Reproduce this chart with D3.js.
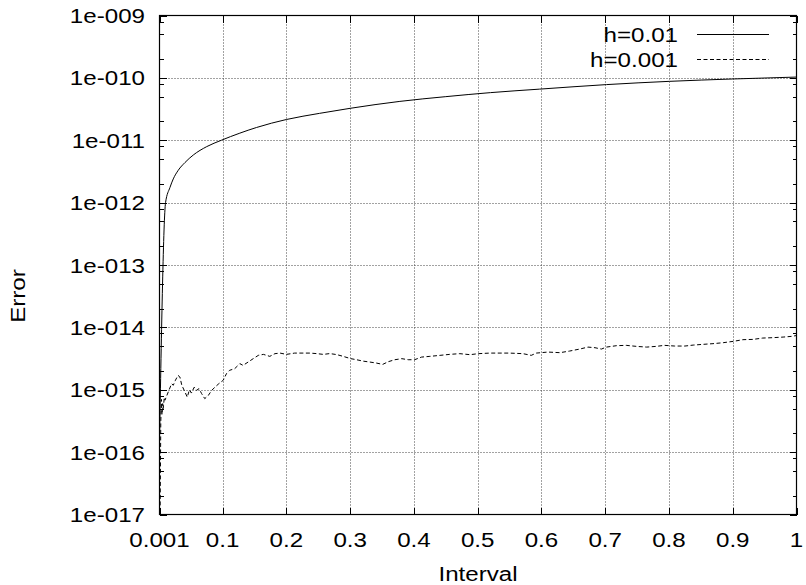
<!DOCTYPE html>
<html>
<head>
<meta charset="utf-8">
<script src="https://cdn.jsdelivr.net/npm/d3@7"></script>
<style>
  body { margin: 0; background: #fff; }
  text { font-family: "Liberation Sans", Arial, sans-serif; font-size: 21px; fill: #000; }
</style>
</head>
<body>
<svg id="chart" width="806" height="585"></svg>
<script>
// ---- data ----
const xTicks = [0.001, 0.1, 0.2, 0.3, 0.4, 0.5, 0.6, 0.7, 0.8, 0.9, 1]
const xTickLabels = ["0.001", "0.1", "0.2", "0.3", "0.4", "0.5", "0.6", "0.7", "0.8", "0.9", "1"]
const yTicks = [1e-17, 1e-16, 1e-15, 1e-14, 1e-13, 1e-12, 1e-11, 1e-10, 1e-9]
const yTickLabels = ["1e-017", "1e-016", "1e-015", "1e-014", "1e-013", "1e-012", "1e-011", "1e-010", "1e-009"]
const yMinorMult = [2, 5, 8]

// h=0.01
const coarseX = [0.001, 0.0105, 0.0174, 0.0226, 0.0304, 0.041, 0.054, 0.075, 0.098, 0.127, 0.153, 0.2,
                 0.252, 0.3, 0.378, 0.45, 0.52, 0.597, 0.702, 0.801, 0.9, 1.0]
const coarseErr = [1.5e-16, 1.0e-12, 1.75e-12, 2.4e-12, 3.3e-12, 4.4e-12, 5.8e-12, 7.9e-12, 1.0e-11, 1.3e-11,
                   1.6e-11, 2.15e-11, 2.7e-11, 3.25e-11, 4.2e-11, 5.0e-11, 5.8e-11, 6.6e-11, 7.8e-11,
                   8.8e-11, 9.6e-11, 1.03e-10]

// h=0.001
const fineX = [0.002, 0.003, 0.004, 0.005, 0.006, 0.0069, 0.0085, 0.0096, 0.0147, 0.020, 0.0226, 0.026, 0.030,
  0.033, 0.036, 0.041, 0.0445, 0.048, 0.051, 0.0555, 0.059, 0.063, 0.067, 0.072, 0.0775, 0.083, 0.088, 0.094,
  0.101, 0.106, 0.111, 0.119, 0.127, 0.132, 0.140, 0.148, 0.156, 0.164, 0.174, 0.182, 0.190, 0.200, 0.213,
  0.226, 0.237, 0.247, 0.258, 0.268, 0.279, 0.289, 0.301, 0.31, 0.32, 0.331, 0.341, 0.351, 0.36, 0.37, 0.381,
  0.391, 0.401, 0.412, 0.425, 0.441, 0.456, 0.472, 0.488, 0.501, 0.519, 0.535, 0.55, 0.571, 0.584, 0.592,
  0.61, 0.629, 0.644, 0.66, 0.673, 0.684, 0.694, 0.702, 0.718, 0.733, 0.749, 0.765, 0.78, 0.793, 0.809,
  0.825, 0.838, 0.853, 0.869, 0.885, 0.901, 0.916, 0.932, 0.947, 0.963, 0.979, 0.992, 1.0]
const fineErr = [1.1e-17, 3.0e-16, 7.0e-16, 4.0e-16, 6.0e-16, 5.0e-16, 7.5e-16, 6.8e-16, 9.2e-16, 1.25e-15,
  1.18e-15, 1.42e-15, 1.70e-15, 1.60e-15, 1.18e-15, 9.2e-16, 7.6e-16, 1.0e-15, 8.85e-16, 1.10e-15, 9.8e-16,
  1.04e-15, 8.7e-16, 7.2e-16, 8.1e-16, 9.8e-16, 1.10e-15, 1.25e-15, 1.42e-15, 1.81e-15, 2.05e-15, 2.18e-15,
  2.62e-15, 2.46e-15, 2.78e-15, 3.15e-15, 3.56e-15, 3.69e-15, 3.43e-15, 3.79e-15, 3.87e-15, 3.69e-15, 3.87e-15,
  3.87e-15, 3.87e-15, 3.8e-15, 3.69e-15, 3.8e-15, 3.66e-15, 3.43e-15, 3.15e-15, 3.03e-15, 2.88e-15, 2.78e-15,
  2.68e-15, 2.55e-15, 2.82e-15, 3.03e-15, 3.15e-15, 3.03e-15, 3.03e-15, 3.34e-15, 3.43e-15, 3.56e-15, 3.69e-15,
  3.79e-15, 3.65e-15, 3.79e-15, 3.87e-15, 3.87e-15, 3.87e-15, 3.79e-15, 3.56e-15, 3.87e-15, 4.02e-15, 3.93e-15,
  4.17e-15, 4.49e-15, 4.83e-15, 4.72e-15, 4.49e-15, 4.83e-15, 5.09e-15, 5.15e-15, 4.96e-15, 4.83e-15, 4.96e-15,
  5.15e-15, 5.02e-15, 5.02e-15, 5.2e-15, 5.34e-15, 5.48e-15, 5.68e-15, 5.97e-15, 6.35e-15, 6.42e-15, 6.74e-15,
  6.84e-15, 6.99e-15, 7.17e-15, 7.4e-15]

const seriesNames = ["h=0.01", "h=0.001"]

// ---- layout ----
const plotL = 159.5, plotR = 796.5, plotT = 15.5, plotB = 514.5
const sx = 1.15 // the reference text is a bit wider than Liberation Sans

const svg = d3.select("#chart")
const x = d3.scaleLinear().domain([0.001, 1]).range([plotL, plotR])
const y = d3.scaleLog().domain([1e-17, 1e-9]).range([plotB, plotT])

// grid (dotted)
const grid = svg.append("g").attr("stroke", "#444").attr("stroke-width", 1).attr("stroke-dasharray", "1,2")
grid.selectAll(".gx")
  .data(xTicks.slice(1, -1))
  .enter().append("line")
  .attr("x1", d => Math.round(x(d)) + 0.5).attr("x2", d => Math.round(x(d)) + 0.5)
  .attr("y1", plotT).attr("y2", plotB)
grid.selectAll(".gy")
  .data(yTicks.slice(1, -1))
  .enter().append("line")
  .attr("y1", d => Math.round(y(d)) + 0.5).attr("y2", d => Math.round(y(d)) + 0.5)
  .attr("x1", plotL).attr("x2", plotR)

// ticks, all pointing inwards, mirrored on every side
const yMinor = []
yTicks.slice(0, -1).forEach(t => yMinorMult.forEach(m => yMinor.push(t * m)))

function tickAxis(axis, scale, vals, size) {
  return axis(scale).tickValues(vals).tickSize(-size).tickFormat("")
}
const axes = svg.append("g")
axes.append("g").attr("transform", `translate(0,${plotB})`).call(tickAxis(d3.axisBottom, x, xTicks, 7))
axes.append("g").attr("transform", `translate(0,${plotT})`).call(tickAxis(d3.axisTop, x, xTicks, 7))
axes.append("g").attr("transform", `translate(${plotL},0)`).call(tickAxis(d3.axisLeft, y, yTicks, 7))
axes.append("g").attr("transform", `translate(${plotR},0)`).call(tickAxis(d3.axisRight, y, yTicks, 7))
axes.append("g").attr("transform", `translate(${plotL},0)`).call(tickAxis(d3.axisLeft, y, yMinor, 4))
axes.append("g").attr("transform", `translate(${plotR},0)`).call(tickAxis(d3.axisRight, y, yMinor, 4))
axes.selectAll(".domain").remove()
axes.selectAll("line").attr("stroke", "#000").attr("shape-rendering", "crispEdges")

// frame
svg.append("rect")
  .attr("x", plotL).attr("y", plotT).attr("width", plotR - plotL).attr("height", plotB - plotT)
  .attr("fill", "none").attr("stroke", "#000").attr("stroke-width", 1.2)

// labels
function label(px, py, str, anchor, rot) {
  svg.append("text")
    .attr("transform", `translate(${px},${py})` + (rot ? ` rotate(${rot})` : "") + ` scale(${sx},1)`)
    .attr("text-anchor", anchor)
    .text(str)
}
yTicks.forEach((t, i) => label(145, y(t) + 7.5, yTickLabels[i], "end"))
xTicks.forEach((t, i) => label(x(t), 547, xTickLabels[i], "middle"))
label(478, 581, "Interval", "middle")
label(25, 296, "Error", "middle", -90)

// curves
svg.append("clipPath").attr("id", "plotclip")
  .append("rect").attr("x", plotL).attr("y", plotT).attr("width", plotR - plotL).attr("height", plotB - plotT)

const coarse = coarseX.map((v, i) => [v, coarseErr[i]])
const fine = fineX.map((v, i) => [v, fineErr[i]])

const plot = svg.append("g").attr("clip-path", "url(#plotclip)")
plot.append("path")
  .datum(coarse)
  .attr("d", d3.line().x(d => x(d[0])).y(d => y(d[1])).curve(d3.curveMonotoneX))
  .attr("fill", "none").attr("stroke", "#000").attr("stroke-width", 1)
plot.append("path")
  .datum(fine)
  .attr("d", d3.line().x(d => x(d[0])).y(d => y(d[1])))
  .attr("fill", "none").attr("stroke", "#000").attr("stroke-width", 1)
  .attr("stroke-dasharray", "4,2.5")

// legend
const legendRows = [{ name: seriesNames[0], dash: null, cy: 34.5 }, { name: seriesNames[1], dash: "4,2.5", cy: 59.5 }]
legendRows.forEach(r => {
  label(678, r.cy + 7.5, r.name, "end")
  svg.append("line")
    .attr("x1", 697).attr("x2", 769).attr("y1", r.cy).attr("y2", r.cy)
    .attr("stroke", "#000").attr("stroke-width", 1)
    .attr("stroke-dasharray", r.dash)
})
</script>
</body>
</html>
